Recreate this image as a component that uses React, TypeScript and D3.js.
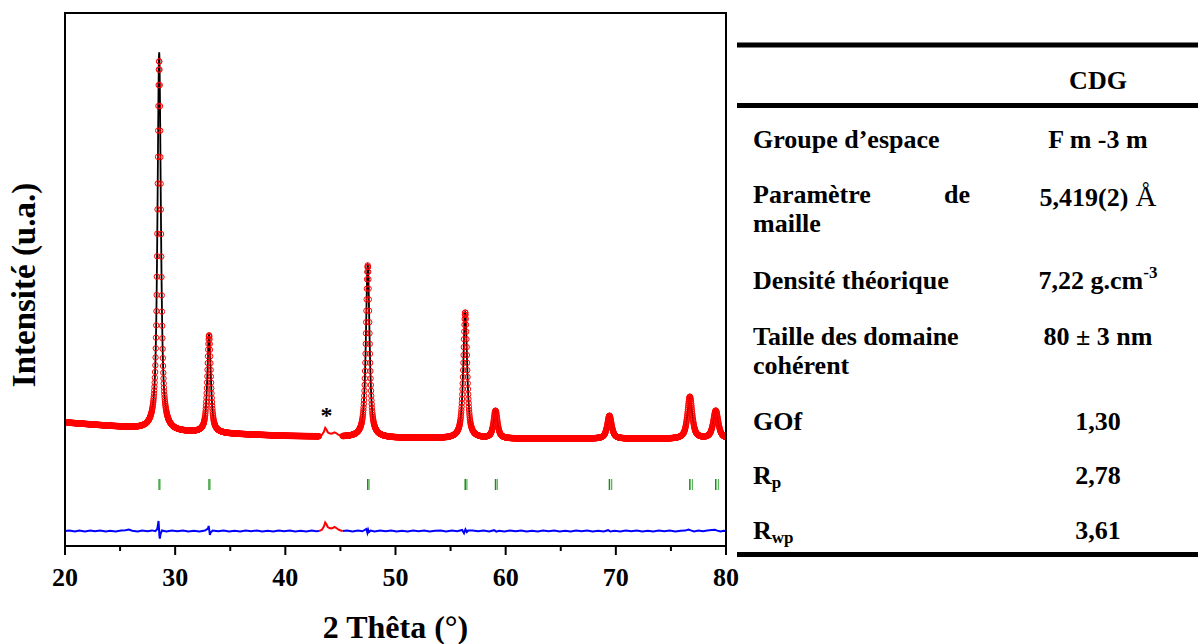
import React from 'react';
import * as d3 from 'd3';

// ---- Peak data, counts above background ----
const peakPos = [28.55, 33.08, 47.48, 56.33, 59.08, 69.42, 76.72, 79.07];
const calcHeight = [3780, 980, 1730, 1265, 275, 230, 420, 280];
const obsHeight = [3700, 975, 1720, 1260, 275, 230, 420, 280];
const peakFwhm = [0.36, 0.37, 0.39, 0.41, 0.43, 0.48, 0.52, 0.55];
const peakEta = 0.75;

// background
const bgTheta = [20, 25, 30, 35, 40, 45, 50, 55, 60, 65, 70, 75, 80];
const bgCounts = [235, 190, 140, 120, 100, 90, 80, 75, 72, 72, 72, 70, 70];

// Bragg positions (K-alpha1, K-alpha2)
const braggKa1 = [28.55, 33.08, 47.48, 56.33, 59.08, 69.42, 76.72, 79.07];
const braggKa2 = [28.62, 33.16, 47.6, 56.48, 59.24, 69.62, 76.95, 79.31];

// excluded region with impurity peak (*)
const exclRange = [43.05, 45.2];
const impTheta = [43.05, 43.3, 43.5, 43.62, 43.72, 43.85, 44.0, 44.15, 44.3, 44.45, 44.6, 44.8, 45.0, 45.2];
const impCounts = [0, 10, 45, 85, 70, 40, 30, 25, 30, 40, 32, 15, 5, 0];
const starTheta = 43.65;

// difference curve (obs - calc) keypoints
const diffTheta = [
  20.0, 20.4, 20.9, 21.3, 21.8, 22.3, 22.7, 23.2, 23.7, 24.1, 24.6, 25.1, 25.5, 25.8, 26.1, 26.6, 27.0, 27.5, 27.9, 28.2,
  28.38, 28.45, 28.49, 28.53, 28.57, 28.61, 28.67, 28.8, 29.2, 29.7, 30.2, 30.7, 31.2, 31.7, 32.2, 32.7,
  32.98, 33.04, 33.1, 33.15, 33.22, 33.4, 33.9, 34.4, 34.9, 35.4, 35.9, 36.4, 36.9, 37.4, 37.9, 38.4, 38.9, 39.4,
  39.9, 40.4, 40.9, 41.4, 41.9, 42.4, 42.8, 43.05,
  45.2, 45.6, 46.1, 46.6, 47.0, 47.35, 47.45, 47.52, 47.6, 47.75, 48.1, 48.6, 49.1, 49.6, 50.1, 50.6, 51.1, 51.6,
  52.1, 52.6, 53.1, 53.6, 54.1, 54.6, 55.1, 55.6, 56.05, 56.22, 56.35, 56.48, 56.6, 57.0, 57.5, 58.0, 58.5, 58.95,
  59.15, 59.4, 59.9, 60.4, 60.9, 61.4, 61.9, 62.4, 62.9, 63.4, 63.9, 64.4, 64.9, 65.4, 65.9, 66.4, 66.9, 67.4,
  67.9, 68.4, 68.9, 69.3, 69.5, 69.9, 70.4, 70.9, 71.4, 71.9, 72.4, 72.9, 73.4, 73.9, 74.4, 74.9, 75.4, 75.9,
  76.3, 76.6, 76.8, 77.1, 77.5, 77.9, 78.3, 78.7, 79.0, 79.2, 79.5, 79.8, 80.0,
];
const diffCounts = [
  0, 6, -5, 4, -6, 5, -3, 6, -4, 3, -5, 4, 8, 14, 2, -4, 5, -3, 6, -2,
  20, 70, 100, 30, -50, -75, -30, 5, -4, 5, -3, 4, -5, 3, -4, 5,
  25, 50, 5, -40, -15, 4, -3, 5, -4, 3, -5, 4, -3, 5, -4, 3, -5, 4,
  -3, 5, -4, 3, -5, 4, -2, 0,
  0, 4, -4, 5, -3, 20, -18, 14, -10, 4, -4, 5, -3, 4, -5, 3, -4, 5,
  -3, 4, -5, 3, 6, -4, 4, -3, 10, -22, 16, -10, 4, 6, -3, 4, -5, 8,
  -6, 3, -4, 5, -3, 4, -5, 3, -4, 5, -3, 4, -5, 3, -4, 5, -3, 4,
  -5, 3, -4, 8, -5, 3, -4, 5, -3, 4, -5, 3, -4, 5, -3, 4, -5, 3,
  4, 14, 6, -4, 5, -3, 6, 10, 12, 4, -5, 3, 0,
];
const diffOffset = -850;
const braggTop = -330;
const braggBottom = -440;

// axis
const xTicksMajor = [20, 30, 40, 50, 60, 70, 80];
const xTicksMinor = [25, 35, 45, 55, 65, 75];
const xTitle = '2 Thêta (°)';
const yTitle = 'Intensité (u.a.)';

// table
const tableHeader = 'CDG';
const rowLabels = ['Groupe d’espace', 'Paramètre', 'Densité théorique', 'Taille des domaine', 'GOf', 'R', 'R'];
const rowLabelExtra = ['', 'maille', '', 'cohérent', '', '', ''];
const rowLabelSub = ['', '', '', '', '', 'p', 'wp'];
const rowValues = ['F m -3 m', '5,419(2)', '7,22 g.cm', '80 ± 3 nm', '1,30', '2,78', '3,61'];
const rowBaselines = [148, 203, 289, 345, 430, 484, 539];

const FONT = '"Liberation Serif", "Times New Roman", Times, serif';

export default function App() {
  const x = d3.scaleLinear().domain([20, 80]).range([65, 726]);
  const y = d3.scaleLinear().domain([-1000, 4330]).range([546, 13]);
  const bg = d3.scaleLinear().domain(bgTheta).range(bgCounts);

  const pv = (t: number, p: number, w: number) => {
    const u = (t - p) / w;
    const L = 1 / (1 + 4 * u * u);
    const G = Math.exp(-4 * Math.LN2 * u * u);
    return peakEta * L + (1 - peakEta) * G;
  };
  const calcAt = (t: number) => bg(t) + d3.sum(peakPos, (p, i) => calcHeight[i] * pv(t, p, peakFwhm[i]));
  const obsAt = (t: number) => bg(t) + d3.sum(peakPos, (p, i) => obsHeight[i] * pv(t, p, peakFwhm[i]));

  const calcTheta = d3.range(20, 80.0001, 0.005);
  const obsTheta = d3.range(20, 80.0001, 0.02).filter((t) => t <= exclRange[0] || t >= exclRange[1]);

  const line = d3
    .line<[number, number]>()
    .x((d) => x(d[0]))
    .y((d) => y(d[1]));

  const calcPts = calcTheta.map((t) => [t, calcAt(t)] as [number, number]);
  const calcLeft = line(calcPts.filter((d) => d[0] <= exclRange[0])) || '';
  const calcRight = line(calcPts.filter((d) => d[0] >= exclRange[1])) || '';
  const exclObsPath = line(impTheta.map((t, i) => [t, obsAt(t) + impCounts[i]]) as [number, number][]) || '';

  const diffPts = diffTheta.map((t, i) => [t, diffCounts[i] + diffOffset] as [number, number]);
  const diffLeft = line(diffPts.filter((d) => d[0] <= exclRange[0])) || '';
  const diffRight = line(diffPts.filter((d) => d[0] >= exclRange[1])) || '';
  const diffExcl = line(impTheta.map((t, i) => [t, impCounts[i] + diffOffset]) as [number, number][]) || '';

  const [x0, x1] = x.range();
  const [yb, yt] = y.range();

  const labelX = 753;
  const valueX = 1098;

  return (
    <svg
      width={1198}
      height={644}
      style={{ position: 'absolute', left: 0, top: 0, background: '#fff', fontFamily: FONT }}
    >
      <defs>
        <clipPath id="plotclip">
          <rect x={x0} y={yt} width={x1 - x0} height={yb - yt} />
        </clipPath>
      </defs>

      <g clipPath="url(#plotclip)">
        {/* calculated */}
        <path d={calcLeft} fill="none" stroke="#000" strokeWidth={1.8} />
        <path d={calcRight} fill="none" stroke="#000" strokeWidth={1.8} />
        {/* observed */}
        {obsTheta.map((t, i) => (
          <circle key={i} cx={x(t)} cy={y(obsAt(t))} r={2.7} fill="none" stroke="#ff0000" strokeWidth={1} />
        ))}
        <path d={exclObsPath} fill="none" stroke="#ff0000" strokeWidth={2} />
        {/* Bragg ticks */}
        {braggKa1.map((t, i) => (
          <line key={'k1' + i} x1={x(t)} x2={x(t)} y1={y(braggTop)} y2={y(braggBottom)} stroke="#1c8c1c" strokeWidth={1.5} />
        ))}
        {braggKa2.map((t, i) => (
          <line key={'k2' + i} x1={x(t)} x2={x(t)} y1={y(braggTop)} y2={y(braggBottom)} stroke="#5cb85c" strokeWidth={1.3} />
        ))}
        {/* difference */}
        <path d={diffLeft} fill="none" stroke="#0000ff" strokeWidth={2} />
        <path d={diffRight} fill="none" stroke="#0000ff" strokeWidth={2} />
        <path d={diffExcl} fill="none" stroke="#ff0000" strokeWidth={2} />
      </g>

      {/* star */}
      <text x={x(starTheta) + 1} y={y(obsAt(starTheta) + 85) - 5} textAnchor="middle" fontSize={24} fontWeight="bold" fill="#000">
        *
      </text>

      {/* frame */}
      <rect x={x0} y={yt} width={x1 - x0} height={yb - yt} fill="none" stroke="#000" strokeWidth={2} />

      {/* x ticks */}
      {xTicksMajor.map((t) => (
        <g key={'M' + t}>
          <line x1={x(t)} x2={x(t)} y1={yb} y2={yb + 9} stroke="#000" strokeWidth={2} />
          <text x={x(t)} y={586} textAnchor="middle" fontSize={26} fontWeight="bold">
            {t}
          </text>
        </g>
      ))}
      {xTicksMinor.map((t) => (
        <line key={'m' + t} x1={x(t)} x2={x(t)} y1={yb} y2={yb + 5} stroke="#000" strokeWidth={2} />
      ))}
      <text x={(x0 + x1) / 2} y={638} textAnchor="middle" fontSize={32} fontWeight="bold">
        {xTitle}
      </text>
      <text transform={`translate(35,285) rotate(-90)`} textAnchor="middle" fontSize={33} fontWeight="bold">
        {yTitle}
      </text>

      {/* table */}
      <rect x={737} y={42.5} width={461} height={5} fill="#000" />
      <rect x={737} y={103} width={461} height={5} fill="#000" />
      <rect x={737} y={552} width={461} height={5} fill="#000" />
      <text x={valueX} y={89} textAnchor="middle" fontSize={26} fontWeight="bold">
        {tableHeader}
      </text>
      {rowLabels.map((lab, i) => (
        <g key={'row' + i} fontSize={26} fontWeight="bold">
          <text x={labelX} y={rowBaselines[i]}>
            {lab}
            {rowLabelSub[i] ? (
              <tspan fontSize={17} dy={4}>
                {rowLabelSub[i]}
              </tspan>
            ) : null}
          </text>
          {rowLabelExtra[i] ? (
            <text x={labelX} y={rowBaselines[i] + 29}>
              {rowLabelExtra[i]}
            </text>
          ) : null}
        </g>
      ))}
      <text x={970} y={rowBaselines[1]} textAnchor="end" fontSize={26} fontWeight="bold">
        de
      </text>
      {rowValues.map((v, i) => (
        <text key={'val' + i} x={valueX} y={i === 1 ? rowBaselines[i] + 3 : rowBaselines[i]} textAnchor="middle" fontSize={26} fontWeight="bold">
          {v}
          {i === 1 ? (
            <tspan fontWeight="normal" fontSize={29}>
              {' Å'}
            </tspan>
          ) : null}
          {i === 2 ? (
            <tspan fontSize={17} dy={-11}>
              -3
            </tspan>
          ) : null}
        </text>
      ))}
    </svg>
  );
}
